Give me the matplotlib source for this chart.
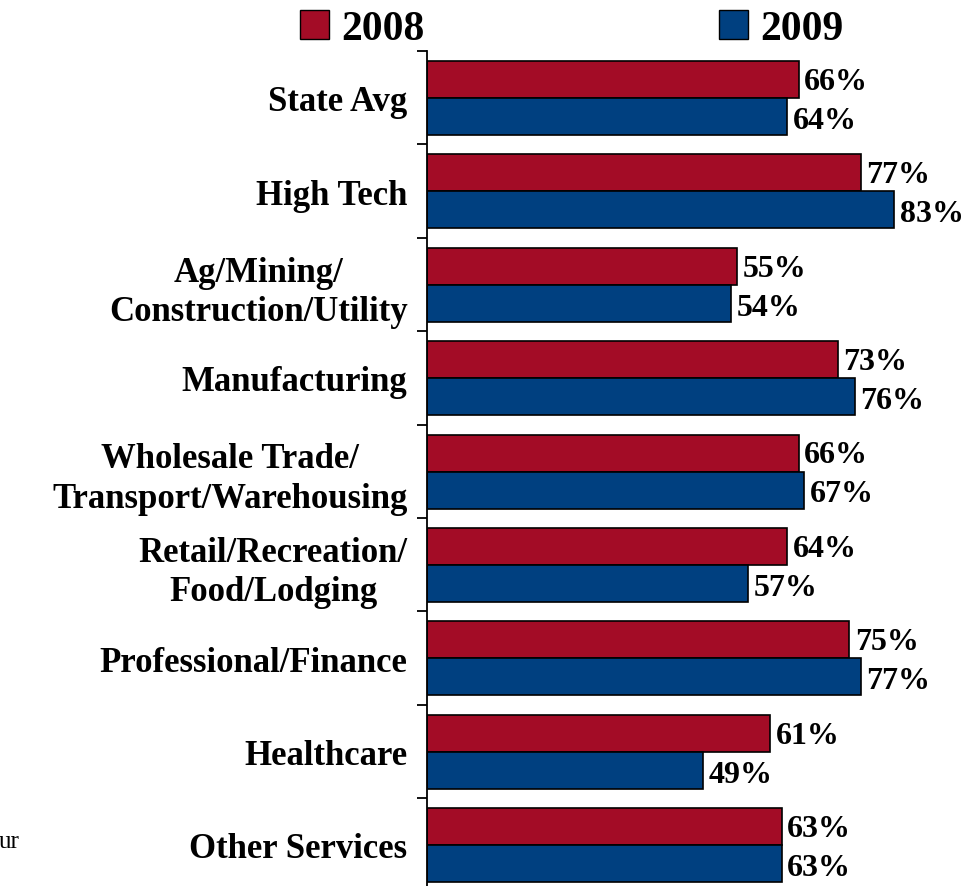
import numpy as np
import matplotlib.pyplot as plt
from matplotlib.patches import Patch

plt.rcParams['font.family'] = ['Liberation Serif', 'DejaVu Serif']

# Data
categories = ['State Avg', 'High Tech', 'Ag/Mining/\nConstruction/Utility', 'Manufacturing',
              'Wholesale Trade/\nTransport/Warehousing', 'Retail/Recreation/\nFood/Lodging',
              'Professional/Finance', 'Healthcare', 'Other Services']
vals_2008 = [66, 77, 55, 73, 66, 64, 75, 61, 63]
vals_2009 = [64, 83, 54, 76, 67, 57, 77, 49, 63]

red = '#A30C26'
blue = '#004080'

W, H = 973, 887
fig = plt.figure(figsize=(W / 100, H / 100), dpi=100)
top_px, pitch = 52, 93.4
axis_x = 427
n = len(categories)
ax = fig.add_axes([axis_x / W, (H - top_px - n * pitch) / H, (W - axis_x) / W, n * pitch / H])

bh = 37 / pitch
off = 10 / pitch
y = np.arange(n)
y_red = y + off + bh / 2
y_blue = y + off + 1.5 * bh

ax.barh(y_red, vals_2008, height=bh, color=red, edgecolor='black', linewidth=1.2)
ax.barh(y_blue, vals_2009, height=bh, color=blue, edgecolor='black', linewidth=1.2)

for yy, v in zip(y_red, vals_2008):
    ax.text(v + 1.0, yy + 0.02, f'{v}%', va='center', ha='left', fontsize=23, fontweight='bold')
for yy, v in zip(y_blue, vals_2009):
    ax.text(v + 1.0, yy + 0.04, f'{v}%', va='center', ha='left', fontsize=23, fontweight='bold')

ax.set_xlim(0, (W - axis_x) / 5.63)
ax.set_ylim(n, 0)

for s in ['top', 'right', 'bottom']:
    ax.spines[s].set_visible(False)
ax.spines['left'].set_linewidth(1.3)
ax.set_xticks([])

ax.set_yticks(y + 0.5)
ax.set_yticklabels(categories, fontsize=25, fontweight='bold', multialignment='center',
                   linespacing=1.25)
ax.tick_params(axis='y', which='major', length=0, pad=14)
ax.set_yticks(np.arange(n + 1), minor=True)
ax.tick_params(axis='y', which='minor', length=7, width=1.3)

handles = [Patch(facecolor=red, edgecolor='black', label='2008'),
           Patch(facecolor=blue, edgecolor='black', label='2009')]
leg = fig.legend(handles=handles, loc='upper left', bbox_to_anchor=(300 / W, (H - 11) / H), ncol=2,
                 frameon=False, prop={'size': 30, 'weight': 'bold'},
                 handlelength=0.7, handleheight=0.7, handletextpad=0.3, columnspacing=7.05,
                 borderaxespad=0, borderpad=0)

fig.text(-1 / W, (H - 848) / H, 'ur', fontsize=18, va='baseline', ha='left')

fig.savefig('out.png', dpi=100)
